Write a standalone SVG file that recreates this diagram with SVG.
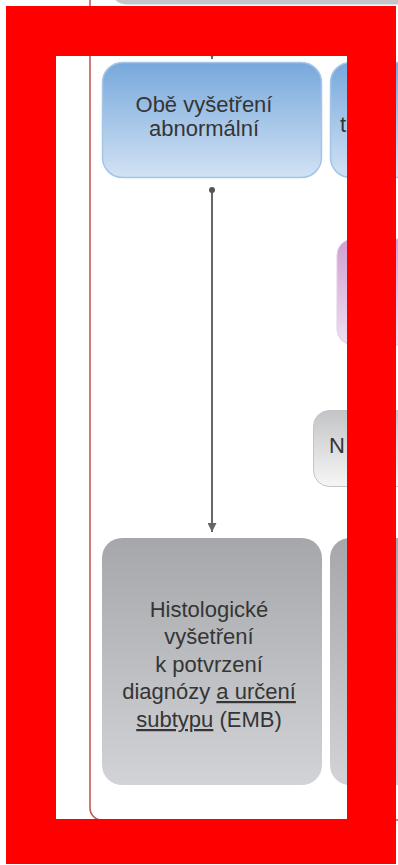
<svg xmlns="http://www.w3.org/2000/svg" width="398" height="865" viewBox="0 0 398 865">
  <style>
    .lbl { font-family: "Liberation Sans", Arial, sans-serif; font-size: 22px; fill: #353535; text-anchor: middle; }
    .lblL { font-family: "Liberation Sans", Arial, sans-serif; font-size: 22px; fill: #353535; }
    .u { text-decoration: underline; }
    .conn { stroke: #666666; stroke-width: 2; fill: none; }
  </style>
  <defs>
    <linearGradient id="gBlue" x1="0" y1="0" x2="0" y2="1">
      <stop offset="0" stop-color="#77a8dc"/>
      <stop offset="1" stop-color="#d2e2f4"/>
    </linearGradient>
    <linearGradient id="gGray" x1="0" y1="0" x2="0" y2="1">
      <stop offset="0" stop-color="#a5a7aa"/>
      <stop offset="1" stop-color="#d1d3d6"/>
    </linearGradient>
    <linearGradient id="gPurple" x1="0" y1="0" x2="0" y2="1">
      <stop offset="0" stop-color="#cf9ed2"/>
      <stop offset="1" stop-color="#eee0f1"/>
    </linearGradient>
    <linearGradient id="gBtn" x1="0" y1="0" x2="0" y2="1">
      <stop offset="0" stop-color="#c3c4c7"/>
      <stop offset="1" stop-color="#f6f6f6"/>
    </linearGradient>
    <marker id="arr" viewBox="0 0 10 10" refX="10" refY="5" markerWidth="4.5" markerHeight="4.5" orient="auto" markerUnits="strokeWidth">
      <path d="M0,0 L10,5 L0,10 Z" fill="#666666"/>
    </marker>
    <marker id="dot" viewBox="0 0 10 10" refX="5" refY="5" markerWidth="3" markerHeight="3" markerUnits="strokeWidth">
      <circle cx="5" cy="5" r="5" fill="#555555"/>
    </marker>
  </defs>

  <rect x="0" y="0" width="398" height="865" fill="#ffffff"/>

  <!-- swimlane border -->
  <g id="lane">
    <rect x="90" y="-30" width="420" height="850" rx="12" fill="none" stroke="#c0504d" stroke-width="1.5"/>
  </g>

  <!-- top box (partial) -->
  <g id="node-top">
    <rect x="111" y="-60" width="400" height="64.5" rx="15" fill="#c4c5c8"/>
  </g>

  <g id="connectors">
    <line class="conn" x1="212" y1="6" x2="212" y2="59" marker-end="url(#arr)"/>
    <line class="conn" x1="212" y1="190" x2="212" y2="532" marker-start="url(#dot)" marker-end="url(#arr)"/>
  </g>

  <g id="node-obe">
    <rect x="102.5" y="62.5" width="219" height="115" rx="20" fill="url(#gBlue)" stroke="#a3c5e8" stroke-width="1.5"/>
    <text class="lbl" x="204" y="112">Obě vyšetření</text>
    <text class="lbl" x="204" y="136">abnormální</text>
  </g>

  <g id="node-blue2">
    <rect x="330.5" y="62.5" width="130" height="115" rx="20" fill="url(#gBlue)" stroke="#a3c5e8" stroke-width="1.5"/>
    <text class="lblL" x="340" y="132">t</text>
  </g>

  <g id="node-purple">
    <rect x="337" y="239" width="130" height="106" rx="16" fill="url(#gPurple)" stroke="#e2cde4" stroke-width="1"/>
  </g>

  <g id="node-n">
    <rect x="313.5" y="410.5" width="130" height="76" rx="16" fill="url(#gBtn)" stroke="#c2c3c5" stroke-width="1"/>
    <text class="lblL" x="329" y="453">N</text>
  </g>

  <g id="node-histo">
    <rect x="102" y="538" width="220" height="247" rx="20" fill="url(#gGray)"/>
    <text class="lbl" x="209" y="617">Histologické</text>
    <text class="lbl" x="209" y="644">vyšetření</text>
    <text class="lbl" x="209" y="672">k potvrzení</text>
    <text class="lbl" x="209" y="699">diagnózy <tspan class="u">a určení</tspan></text>
    <text class="lbl" x="209" y="727"><tspan class="u">subtypu</tspan> (EMB)</text>
  </g>

  <g id="node-gray2">
    <rect x="330" y="538" width="130" height="247" rx="20" fill="url(#gGray)"/>
  </g>

  <!-- red frame -->
  <path d="M6,6 H396 V864 H6 Z M56,56 V819 H347 V56 Z" fill="#ff0000" fill-rule="evenodd"/>
</svg>
